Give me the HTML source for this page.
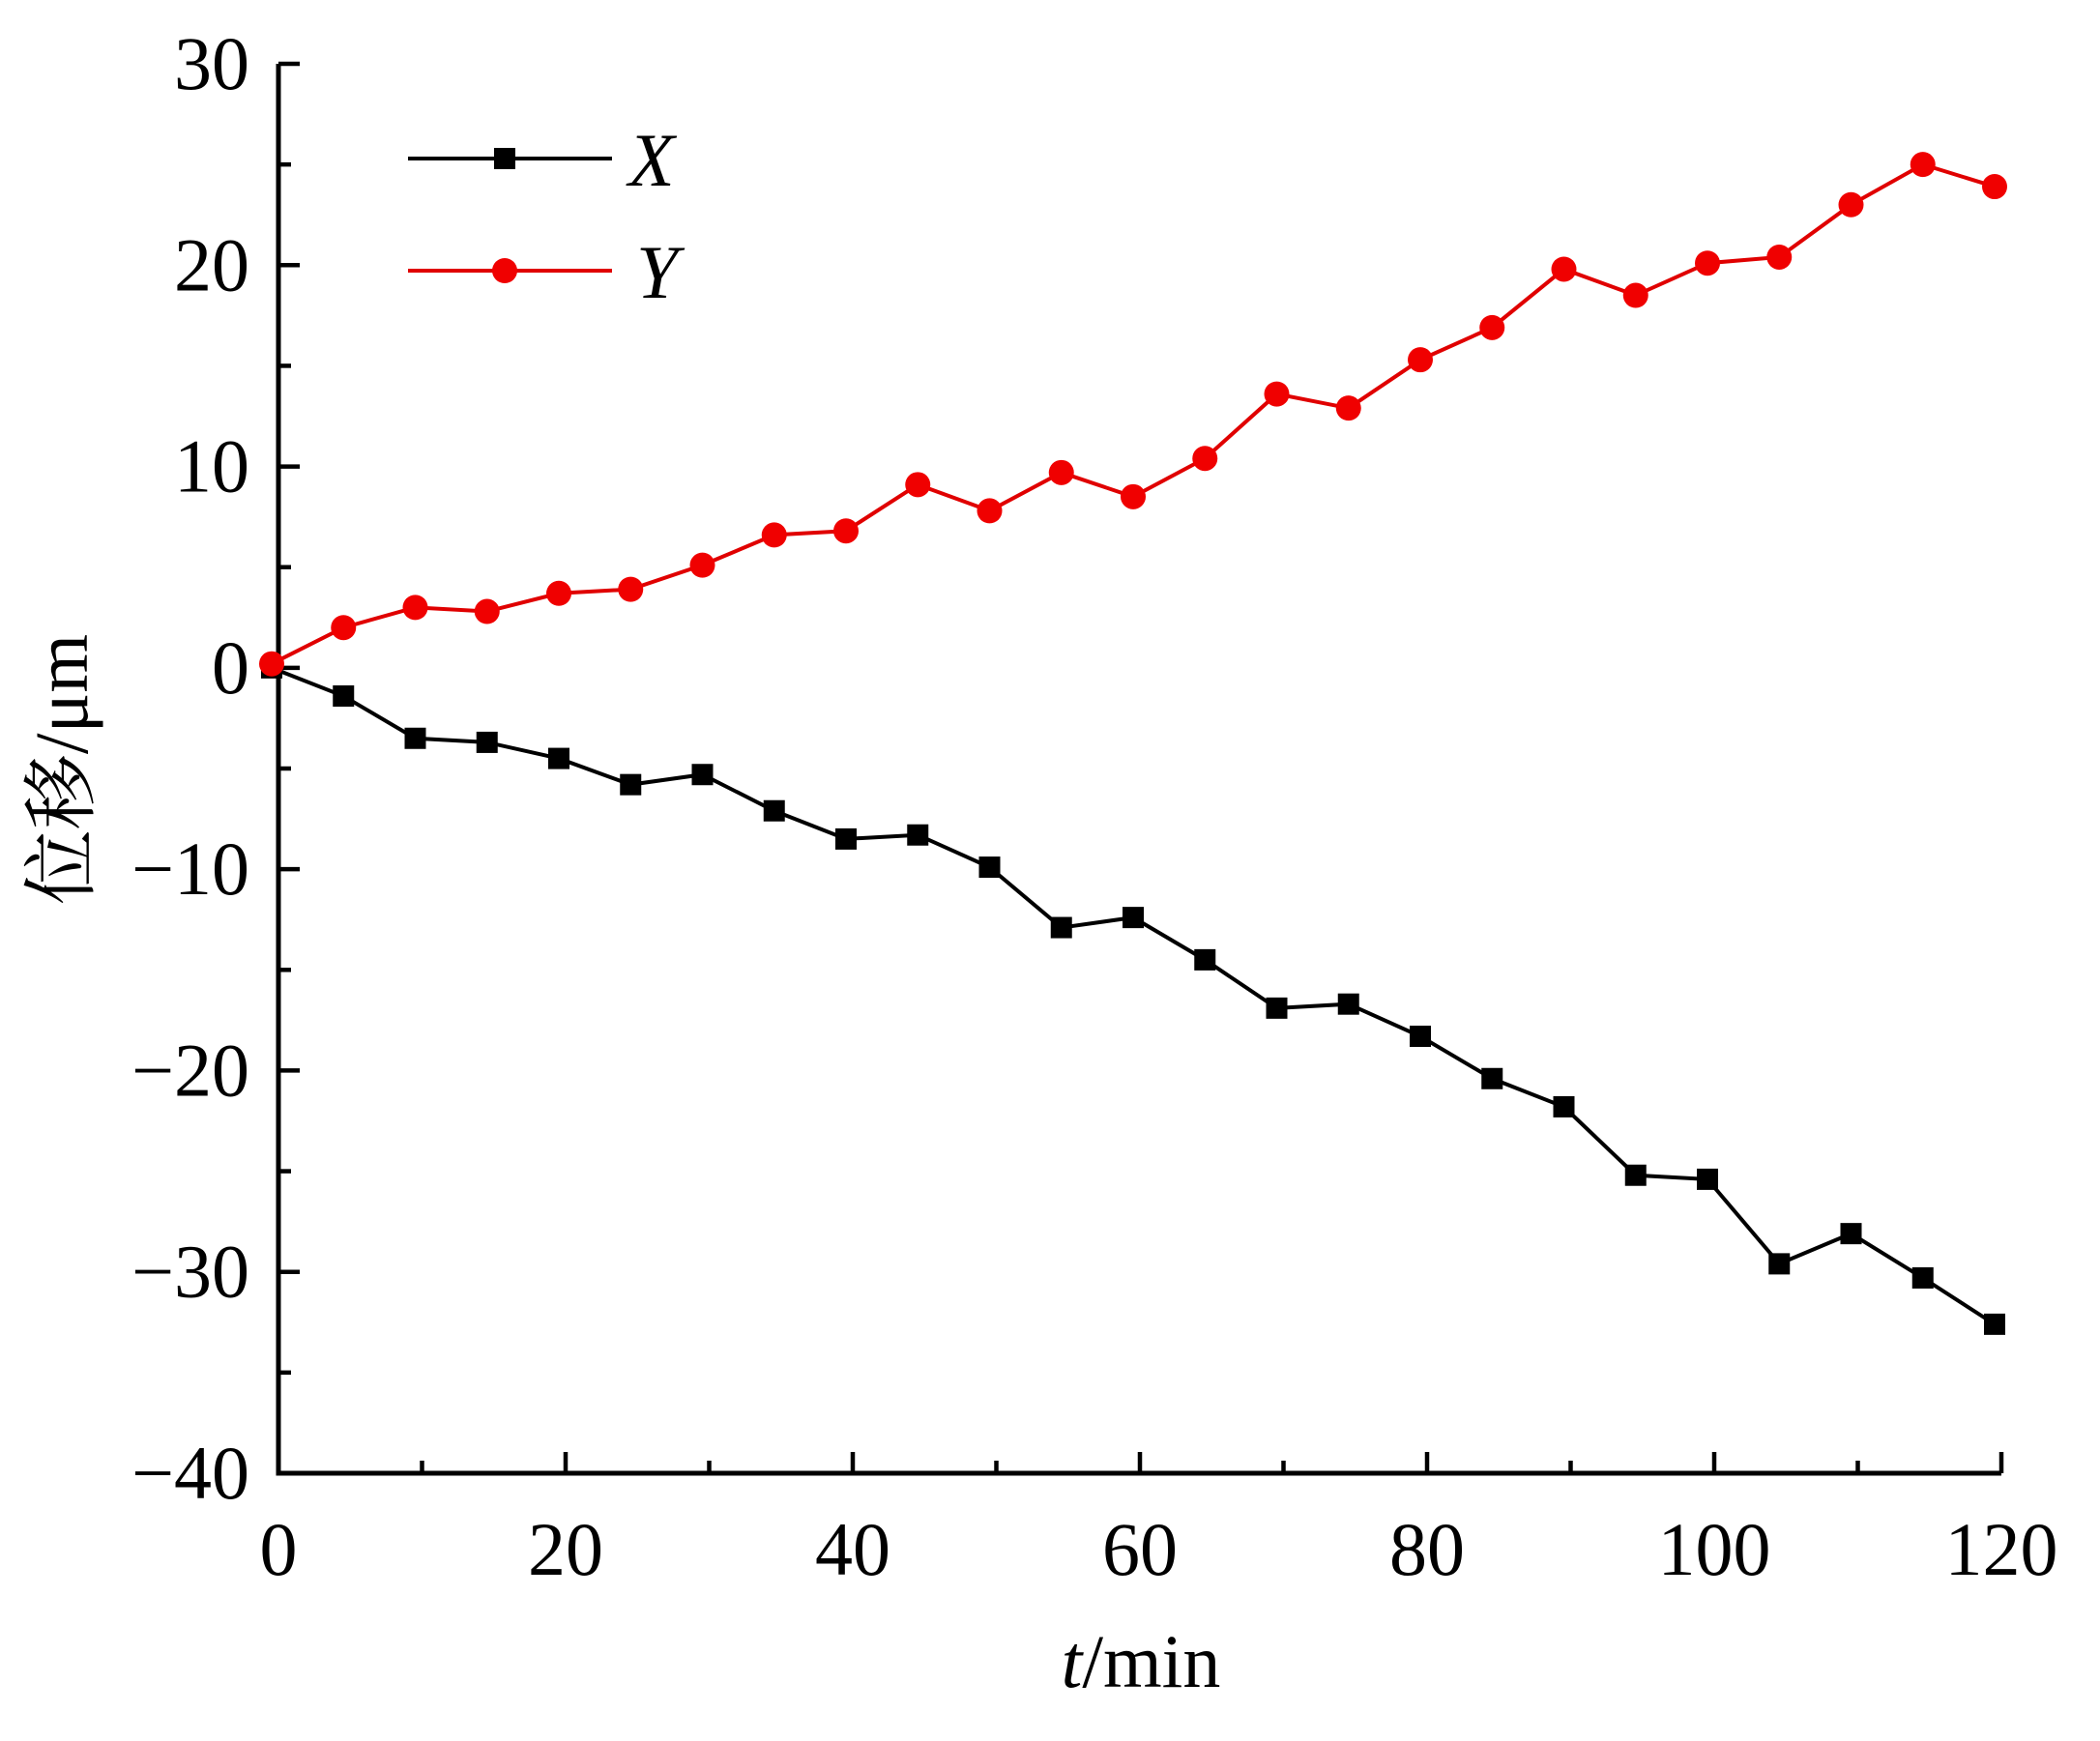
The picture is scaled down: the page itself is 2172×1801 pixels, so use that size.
<!DOCTYPE html>
<html><head><meta charset="utf-8"><style>
html,body{margin:0;padding:0;background:#fff}
svg{display:block}
text{font-family:"Liberation Serif","Noto Serif CJK SC",serif;fill:#000}
</style></head><body>
<svg id="chart" width="2172" height="1801" viewBox="0 0 2172 1801" xmlns="http://www.w3.org/2000/svg">
<g id="axes"></g>
<g id="series"></g>
<g id="legend"></g>
</svg>
<script>
const times = [0,5,10,15,20,25,30,35,40,45,50,55,60,65,70,75,80,85,90,95,100,105,110,115,120];
const xValues = [0,-1.4,-3.5,-3.7,-4.5,-5.8,-5.3,-7.1,-8.5,-8.3,-9.9,-12.9,-12.4,-14.5,-16.9,-16.7,-18.3,-20.4,-21.8,-25.2,-25.4,-29.6,-28.1,-30.3,-32.6];
const yValues = [0.2,2.0,3.0,2.8,3.7,3.9,5.1,6.6,6.8,9.1,7.8,9.7,8.5,10.4,13.6,12.9,15.3,16.9,19.8,18.5,20.1,20.4,23.0,25.0,23.9];
const xTicks = [0,20,40,60,80,100,120];
const yTicks = [30,20,10,0,-10,-20,-30,-40];
const yTickLabels = ["30","20","10","0","\u221210","\u221220","\u221230","\u221240"];

const NS="http://www.w3.org/2000/svg";
const L=288,R=2070,T=66,B=1524;
const sx=v=>L+(v-0)/120*(R-L);
const sy=v=>T+(30-v)/70*(B-T);
const DX=-7;
function mk(tag,attrs,parent){const e=document.createElementNS(NS,tag);for(const k in attrs)e.setAttribute(k,attrs[k]);parent.appendChild(e);return e;}
const axes=document.getElementById('axes'),series=document.getElementById('series'),legend=document.getElementById('legend');

let a=mk('path',{d:`M${L},${T} L${L},${B} L${R},${B}`,fill:'none',stroke:'#000','stroke-width':5},axes);


for(let v=-40;v<=30;v+=5){
  const major=v%10===0;
  const t=mk('line',{x1:L,x2:L+(major?22:13),y1:sy(v),y2:sy(v),stroke:'#000','stroke-width':4.5},axes);
  
  
}
yTicks.forEach((v,i)=>{
  const t=mk('text',{x:L-30,y:sy(v)+26,'text-anchor':'end','font-size':78},axes);
  t.textContent=yTickLabels[i];
  
  
});
for(let v=0;v<=120;v+=10){
  const major=v%20===0;
  const t=mk('line',{x1:sx(v),x2:sx(v),y1:B,y2:B-(major?22:13),stroke:'#000','stroke-width':4.5},axes);
  
  
}
xTicks.forEach(v=>{
  const t=mk('text',{x:sx(v),y:B+105,'text-anchor':'middle','font-size':78},axes);
  t.textContent=String(v);
  
  
});
let xt=mk('text',{x:1180,y:1745,'text-anchor':'middle','font-size':78},axes);
xt.innerHTML='<tspan font-style="italic">t</tspan>/min';


let yt=mk('text',{x:0,y:0,'text-anchor':'middle','font-size':78,transform:'translate(90,796) rotate(-90)'},axes);
yt.textContent='位移/μm';



const pts=(vals)=>times.map((t,i)=>`${sx(t)+DX},${sy(vals[i])}`).join(' ');
let px=mk('polyline',{points:pts(xValues),fill:'none',stroke:'#000','stroke-width':4},series);


times.forEach((t,i)=>{
  const m=mk('rect',{x:sx(t)+DX-11,y:sy(xValues[i])-11,width:22,height:22,fill:'#000'},series);
  
  
});
let py=mk('polyline',{points:pts(yValues),fill:'none',stroke:'#e00000','stroke-width':4},series);


times.forEach((t,i)=>{
  const m=mk('circle',{cx:sx(t)+DX,cy:sy(yValues[i]),r:13,fill:'#f00000'},series);
  
  
});

let l1=mk('line',{x1:422,x2:633,y1:164,y2:164,stroke:'#000','stroke-width':4},legend);


let m1=mk('rect',{x:511,y:153,width:22,height:22,fill:'#000'},legend);


let t1=mk('text',{x:650,y:192,'font-size':78,'font-style':'italic'},legend);
t1.textContent='X';


let l2=mk('line',{x1:422,x2:633,y1:280,y2:280,stroke:'#e00000','stroke-width':4},legend);


let m2=mk('circle',{cx:522,cy:280,r:13,fill:'#f00000'},legend);


let t2=mk('text',{x:658,y:308,'font-size':78,'font-style':'italic'},legend);
t2.textContent='Y';


</script>
</body></html>
